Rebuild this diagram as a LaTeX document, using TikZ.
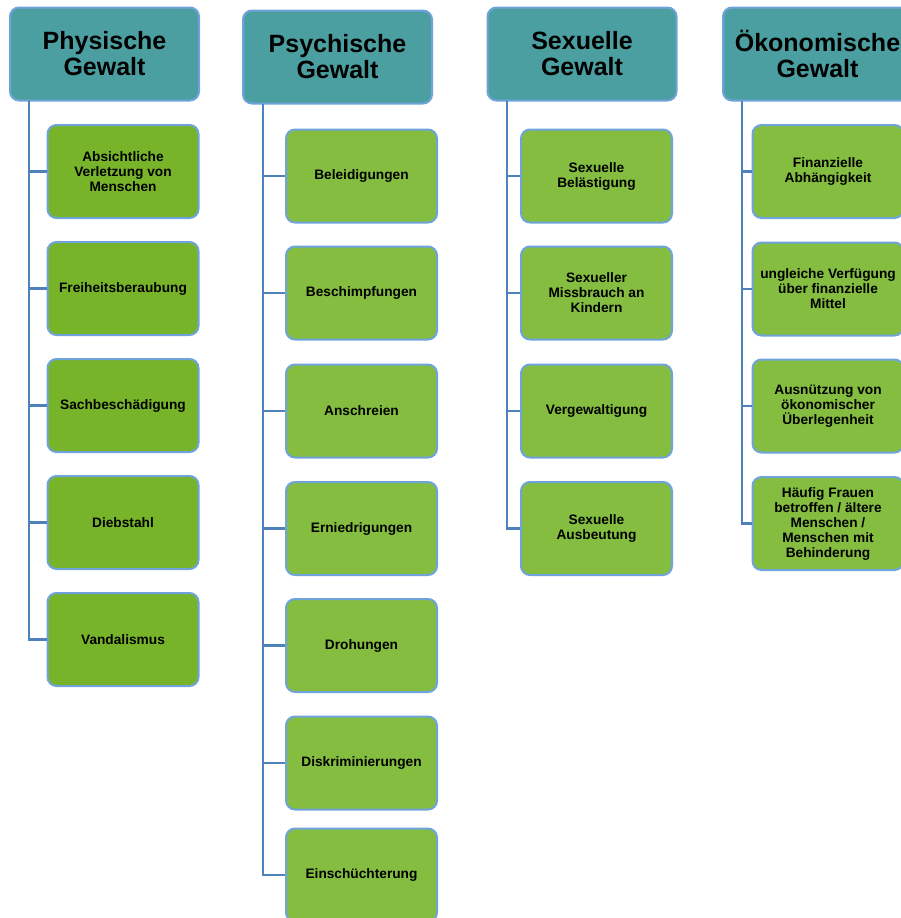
\documentclass[tikz,border=0pt]{standalone}
\usepackage{fontspec}
\setmainfont{Liberation Sans}
\definecolor{hdrfill}{RGB}{75,159,161}
\definecolor{boxborder}{RGB}{111,164,218}
\definecolor{darkgreen}{RGB}{119,180,42}
\definecolor{lightgreen}{RGB}{132,189,63}
\definecolor{connblue}{RGB}{79,129,189}
\tikzset{
  hdr/.style={draw=boxborder, fill=hdrfill, line width=2pt, rounded corners=9pt,
    minimum width=189pt, minimum height=93pt, align=center, inner sep=0pt,
    font=\fontsize{25}{26}\selectfont\bfseries},
  item/.style={draw=boxborder, line width=2pt, rounded corners=9pt,
    minimum width=151pt, minimum height=93pt, align=center, inner sep=0pt,
    font=\fontsize{13.7}{15}\selectfont\bfseries},
  itemA/.style={item, fill=darkgreen},
  itemB/.style={item, fill=lightgreen},
  conn/.style={draw=connblue, line width=2.5pt}
}
\begin{document}
\begin{tikzpicture}[x=1pt,y=-1pt]
\clip (0,0) rectangle (901,918);
\fill[white] (0,0) rectangle (901,918);

% Column 1
\node[hdr] (h1) at (104.5,54) {Physische\\Gewalt};
\coordinate (t1) at (29,101);
\node[itemA] (a1) at (123,171.5) {Absichtliche\\Verletzung von\\Menschen};
\node[itemA] (a2) at (123,288.5) {Freiheitsberaubung};
\node[itemA] (a3) at (123,405.5) {Sachbeschädigung};
\node[itemA] (a4) at (123,522.5) {Diebstahl};
\node[itemA] (a5) at (123,639.5) {Vandalismus};
\foreach \n in {a1,a2,a3,a4,a5} \draw[conn] (t1) |- (\n.west);

% Column 2
\node[hdr] (h2) at (337.5,57) {Psychische\\Gewalt};
\coordinate (t2) at (263,104);
\node[itemB] (b1) at (361.5,176) {Beleidigungen};
\node[itemB] (b2) at (361.5,293) {Beschimpfungen};
\node[itemB] (b3) at (361.5,411) {Anschreien};
\node[itemB] (b4) at (361.5,528.5) {Erniedrigungen};
\node[itemB] (b5) at (361.5,645.5) {Drohungen};
\node[itemB] (b6) at (361.5,763) {Diskriminierungen};
\node[itemB] (b7) at (361.5,875) {Einschüchterung};
\foreach \n in {b1,b2,b3,b4,b5,b6,b7} \draw[conn] (t2) |- (\n.west);

% Column 3
\node[hdr] (h3) at (582,54) {Sexuelle\\Gewalt};
\coordinate (t3) at (507,101);
\node[itemB] (c1) at (596.5,176) {Sexuelle\\Belästigung};
\node[itemB] (c2) at (596.5,293) {Sexueller\\Missbrauch an\\Kindern};
\node[itemB] (c3) at (596.5,411) {Vergewaltigung};
\node[itemB] (c4) at (596.5,528.5) {Sexuelle\\Ausbeutung};
\foreach \n in {c1,c2,c3,c4} \draw[conn] (t3) |- (\n.west);

% Column 4
\node[hdr] (h4) at (817.5,54) {Ökonomische\\Gewalt};
\coordinate (t4) at (742,101);
\node[itemB] (d1) at (828,171.5) {Finanzielle\\Abhängigkeit};
\node[itemB] (d2) at (828,289) {ungleiche Verfügung\\über finanzielle\\Mittel};
\node[itemB] (d3) at (828,406) {Ausnützung von\\ökonomischer\\Überlegenheit};
\node[itemB] (d4) at (828,523.5) {Häufig Frauen\\betroffen / ältere\\Menschen /\\Menschen mit\\Behinderung};
\foreach \n in {d1,d2,d3,d4} \draw[conn] (t4) |- (\n.west);
\end{tikzpicture}
\end{document}
